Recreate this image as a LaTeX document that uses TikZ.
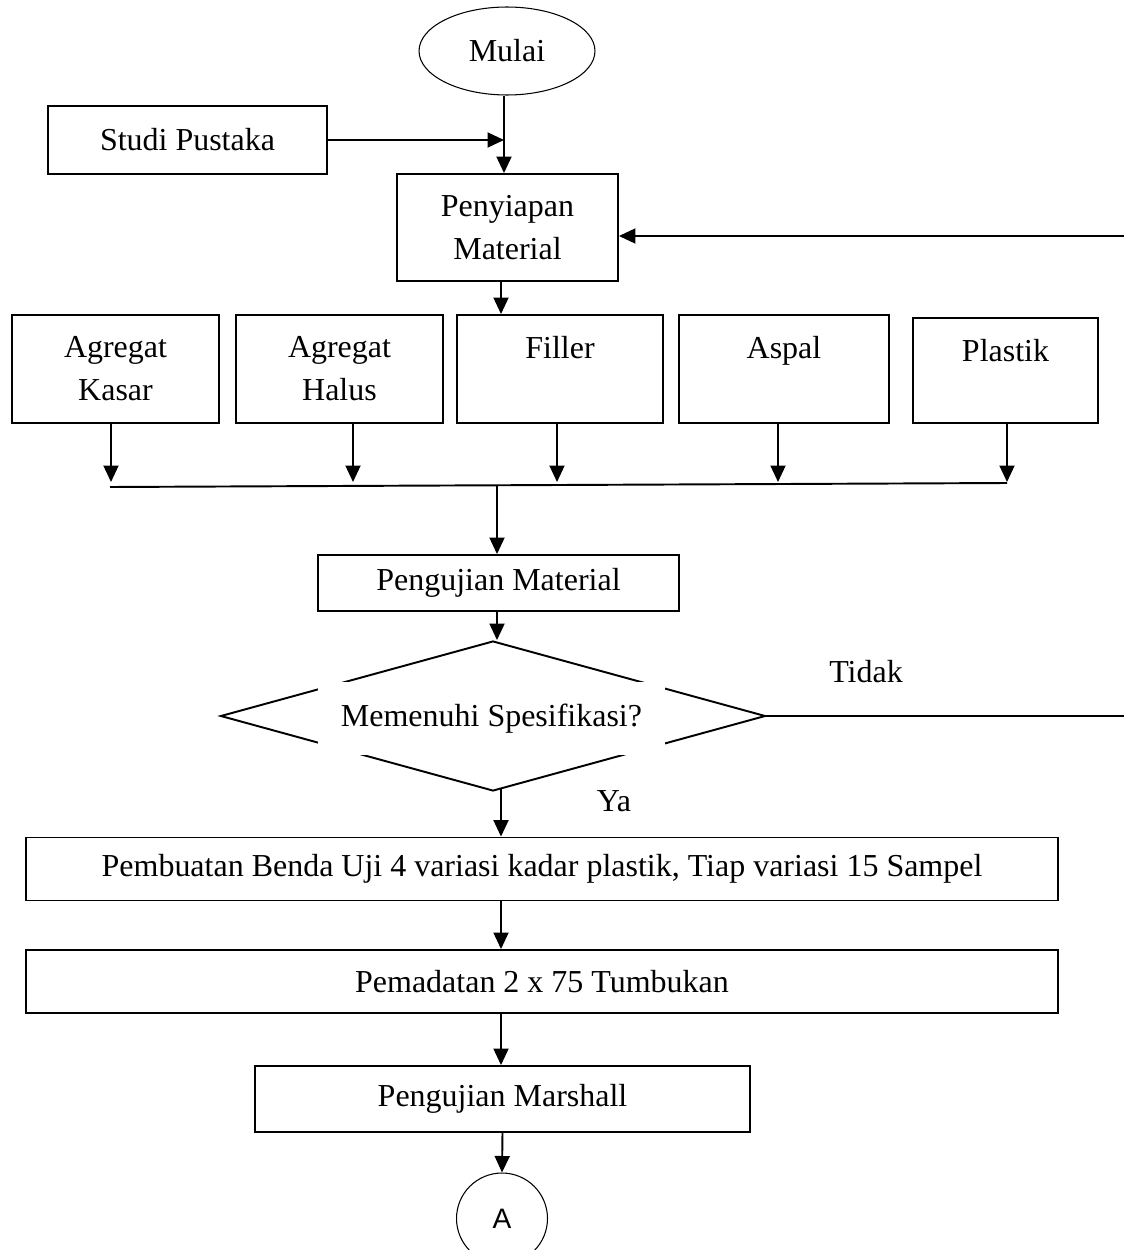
\documentclass[tikz,border=0pt]{standalone}
\usepackage{fontspec}
\setmainfont{Liberation Serif}
\newfontfamily\arialfont{Liberation Sans}
\usetikzlibrary{shapes.geometric,arrows.meta}

\begin{document}
\begin{tikzpicture}[x=0.02cm,y=-0.02cm,
  font=\fontsize{18.2}{24.4}\selectfont,
  kotak/.style={draw,line width=1.1pt,inner sep=0pt},
  panah/.style={-{Triangle[length=0.33cm,width=0.3cm]},line width=1.1pt},
  garis/.style={line width=1.1pt},
  isi/.style={align=center,anchor=north,yshift=-0.33cm}]

\useasboundingbox (0,0) rectangle (1124,1250);

\node[draw,ellipse,line width=0.6pt,minimum width=3.52cm,minimum height=1.76cm,inner sep=0pt] (mulai) at (507,51) {Mulai};
\node[kotak,minimum width=5.58cm,minimum height=1.36cm] (studi) at (187.5,140) {Studi Pustaka};
\node[kotak,minimum width=4.42cm,minimum height=2.14cm,align=center] (siap) at (507.5,227.5) {Penyiapan\\Material};

\coordinate (atas) at (504,0);
\coordinate (tengah) at (501,0);
\draw[panah] (studi.east) -- (studi.east -| atas);
\draw[panah] (mulai.south -| atas) -- (siap.north -| atas);

\coordinate (busL) at (110,487);
\coordinate (busR) at (1007,483);
\coordinate (busM) at (497,485);
\draw[garis] (busL) -- (busR);

\foreach \nm/\xc/\yc/\lebar/\tinggi/\ax/\txt in {kasar/115.5/369/207/108/111/{Agregat\\Kasar},halus/339.5/369/207/108/353/{Agregat\\Halus},filler/560/369/206/108/557/{Filler},aspal/784/369/210/108/778/{Aspal},plastik/1005.5/370.5/185/105/1007/{Plastik}}
{
\node[kotak,minimum width=\lebar*0.02cm,minimum height=\tinggi*0.02cm,label={[isi]north:\txt}] (\nm) at (\xc,\yc) {};
\draw[panah] (\nm.south -| \ax,0) -- (\ax,482);
}

\draw[panah] (siap.south -| tengah) -- (filler.north -| tengah);

\node[kotak,minimum width=7.22cm,minimum height=1.12cm] (ujimat) at (498.5,583) {Pengujian Material};
\draw[panah] (busM) -- (busM |- ujimat.north);

\node[draw,diamond,line width=1.1pt,minimum width=10.9cm,minimum height=3cm,inner sep=0pt] (cek) at (493,716) {};
\node[fill=white,minimum width=6.94cm,minimum height=1.46cm,inner sep=0pt] (cektxt) at (491.5,718.5) {Memenuhi Spesifikasi?};
\draw[panah] (ujimat.south -| busM) -- (cek.north -| busM);

\node (tidak) at (866,672) {Tidak};
\node (ya) at (614,801) {Ya};

\coordinate (balik) at (1132,236);
\draw[panah] (cek.east) -- (cek.east -| balik) -- (balik) -- (balik -| siap.east);

\node[kotak,minimum width=20.64cm,minimum height=1.26cm] (buat) at (542,869) {Pembuatan Benda Uji 4 variasi kadar plastik, Tiap variasi 15 Sampel};
\node[kotak,minimum width=20.64cm,minimum height=1.26cm] (padat) at (542,981.5) {Pemadatan 2 x 75 Tumbukan};
\node[kotak,minimum width=9.9cm,minimum height=1.32cm] (marshall) at (502.5,1099) {Pengujian Marshall};
\node[draw,circle,line width=0.6pt,minimum size=1.82cm,inner sep=0pt,font=\arialfont\fontsize{16}{19}\selectfont] (akhir) at (502,1218.5) {A};

\draw[panah] ([yshift=0.05cm]cek.south -| tengah) -- (buat.north -| tengah);
\draw[panah] (buat.south -| tengah) -- (padat.north -| tengah);
\draw[panah] (padat.south -| tengah) -- (marshall.north -| tengah);
\draw[panah] (marshall.south) -- (akhir.north);

\end{tikzpicture}
\end{document}
